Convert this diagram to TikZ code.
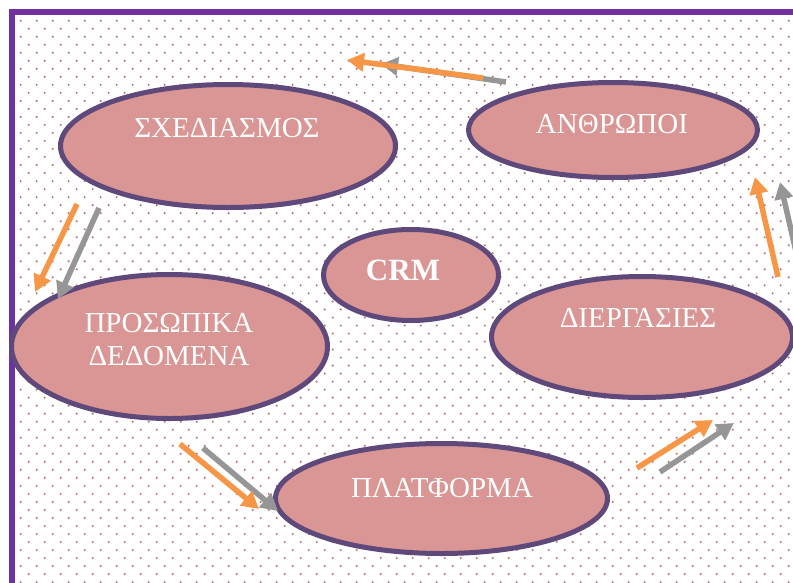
\documentclass[tikz,border=0pt]{standalone}
\usepackage{fontspec}
\setmainfont{Liberation Serif}
\usetikzlibrary{shapes.geometric,arrows.meta}
\definecolor{framepurple}{HTML}{7030A0}
\definecolor{rimpurple}{HTML}{5F497A}
\definecolor{blobfill}{HTML}{D99694}
\definecolor{dotpink}{RGB}{188,112,124}
\definecolor{arroworange}{HTML}{F79646}
\definecolor{arrowgray}{HTML}{969696}
\tikzset{
  blob/.style={ellipse, draw=rimpurple, fill=blobfill, line width=5pt, inner sep=0pt},
  lbl/.style={text=white, font=\fontsize{29}{33}\selectfont, align=center, inner sep=0pt},
  flow/.style={line width=5.5pt, -{Triangle[length=17pt,width=18pt]}},
  flowo/.style={flow, draw=arroworange},
  flowg/.style={flow, draw=arrowgray},
}
\begin{document}
\begin{tikzpicture}[x=1pt,y=-1pt]
\useasboundingbox (0,0) rectangle (793,582);
% dotted background and frame
\begin{scope}
  \clip (0,0) rectangle (793,582);
  \fill[white] (0,0) rectangle (793,582);
  \foreach \j in {0,...,35} {
    \foreach \i in {0,...,48} {
      \fill[dotpink] (20.7+16*\i, 20.7+16.04*\j) circle (1.15);
      \fill[dotpink] (28.7+16*\i, 28.72+16.04*\j) circle (1.15);
    }
  }
  \draw[framepurple, line width=6pt] (12.3,12.3) rectangle (860,660);
\end{scope}

% ellipses
\begin{scope}
  \clip (0,0) rectangle (793,582);
  \node[blob, minimum width=335pt, minimum height=123pt] (plan) at (228,146) {};
  \node[blob, minimum width=289pt, minimum height=95pt] (people) at (613,130) {};
  \node[blob, minimum width=175pt, minimum height=91pt] (crm) at (411,275) {};
  \node[blob, minimum width=316pt, minimum height=144pt] (data) at (169.5,346.5) {};
  \node[blob, minimum width=301pt, minimum height=121pt] (proc) at (642,337) {};
  \node[blob, minimum width=332pt, minimum height=110pt] (platf) at (441.5,498.5) {};
\end{scope}

% labels
\node[lbl] (planT) at (227,128) {ΣΧΕΔΙΑΣΜΟΣ};
\node[lbl] (peopleT) at (612,124) {ΑΝΘΡΩΠΟΙ};
\node[lbl, font=\fontsize{31}{35}\selectfont\bfseries] (crmT) at (403,270) {CRM};
\node[lbl] (dataT) at (169,340) {ΠΡΟΣΩΠΙΚΑ\\ΔΕΔΟΜΕΝΑ};
\node[lbl] (procT) at (638,318) {ΔΙΕΡΓΑΣΙΕΣ};
\node[lbl] (platfT) at (442,488) {ΠΛΑΤΦΟΡΜΑ};

% arrow end points
\coordinate (g1s) at (506,82);  \coordinate (g1e) at (381,64);
\coordinate (o1s) at (483,78);  \coordinate (o1e) at (347,60);
\coordinate (g2s) at (99,208);  \coordinate (g2e) at (58,299);
\coordinate (o2s) at (77,204);  \coordinate (o2e) at (35,292);
\coordinate (g3s) at (203,448); \coordinate (g3e) at (278,511);
\coordinate (o3s) at (180,444); \coordinate (o3e) at (259,509);
\coordinate (g4s) at (660,472); \coordinate (g4e) at (734,423);
\coordinate (o4s) at (637,468); \coordinate (o4e) at (713,420);
\coordinate (g5s) at (803,282); \coordinate (g5e) at (780,182);
\coordinate (o5s) at (778,277); \coordinate (o5e) at (755,177);

% arrows
\begin{scope}
  \clip (0,0) rectangle (793,582);
  \draw[flowg] (g1s) -- (g1e);
  \draw[flowo] (o1s) -- (o1e);
  \draw[flowg] (g2s) -- (g2e);
  \draw[flowo] (o2s) -- (o2e);
  \draw[flowg] (g3s) -- (g3e);
  \draw[flowo] (o3s) -- (o3e);
  \draw[flowg] (g4s) -- (g4e);
  \draw[flowo] (o4s) -- (o4e);
  \draw[flowg] (g5s) -- (g5e);
  \draw[flowo] (o5s) -- (o5e);
\end{scope}
\end{tikzpicture}
\end{document}
